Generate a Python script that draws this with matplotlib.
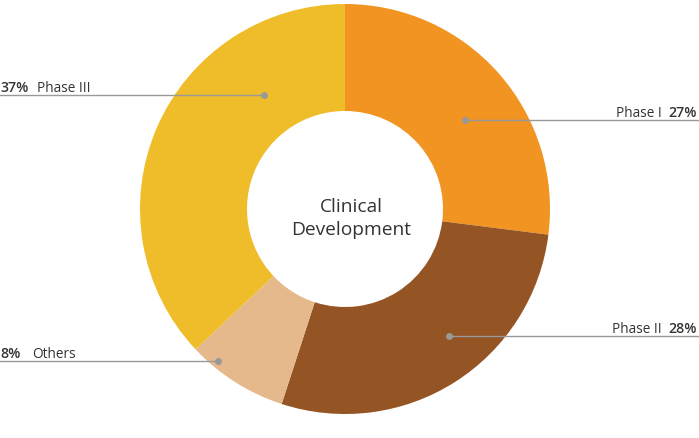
import matplotlib
matplotlib.use("Agg")
import matplotlib.pyplot as plt

labels = ["Phase I", "Phase II", "Others", "Phase III"]
values = [27, 28, 8, 37]
colors = ["#F29422", "#955424", "#E5B98B", "#F0BD2A"]

W, H = 699, 439
fig = plt.figure(figsize=(W / 100, H / 100), dpi=100)
ax = fig.add_axes([0, 0, 1, 1])

cx, cy = 345, H - 210
R, r = 205, 98
ax.pie(values, colors=colors, startangle=90, counterclock=False,
       center=(cx, cy), radius=R, frame=True,
       wedgeprops=dict(width=R - r, linewidth=0))
ax.set_xlim(0, W)
ax.set_ylim(0, H)
ax.set_aspect("equal")
ax.axis("off")

font = "Open Sans"
tc = "#333333"
lc = "#999999"

def Y(y):
    return H - y

# (label index, line y, dot x, side, text baseline y)
ann = [
    (0, 121, 465, "right", 117),
    (1, 336.5, 449, "right", 333),
    (2, 362, 218, "left", 358),
    (3, 96, 264, "left", 92),
]
lfs, pfs = 9.8, 10.2
for i, ly, dx, side, by in ann:
    if side == "right":
        ax.plot([dx, W], [Y(ly), Y(ly)], color=lc, lw=1)
        ax.plot([dx], [Y(ly)], "o", color=lc, ms=4)
        ax.text(697, Y(by), f"{values[i]}%", ha="right", va="baseline",
                fontsize=pfs, fontweight="semibold", family=font, color=tc)
        ax.text(662, Y(by), labels[i], ha="right", va="baseline",
                fontsize=lfs, family=font, color=tc)
    else:
        ax.plot([0, dx], [Y(ly), Y(ly)], color=lc, lw=1)
        ax.plot([dx], [Y(ly)], "o", color=lc, ms=4)
        ax.text(0, Y(by), f"{values[i]}%", ha="left", va="baseline",
                fontsize=pfs, fontweight="semibold", family=font, color=tc)
        xoff = 37 if values[i] >= 10 else 32
        ax.text(xoff, Y(by), labels[i], ha="left", va="baseline",
                fontsize=lfs, family=font, color=tc)

ax.text(cx + 6, Y(212), "Clinical", ha="center", va="baseline",
        fontsize=13.8, family=font, color=tc)
ax.text(cx + 6, Y(235), "Development", ha="center", va="baseline",
        fontsize=13.8, family=font, color=tc)

fig.savefig("out.png", dpi=100)
